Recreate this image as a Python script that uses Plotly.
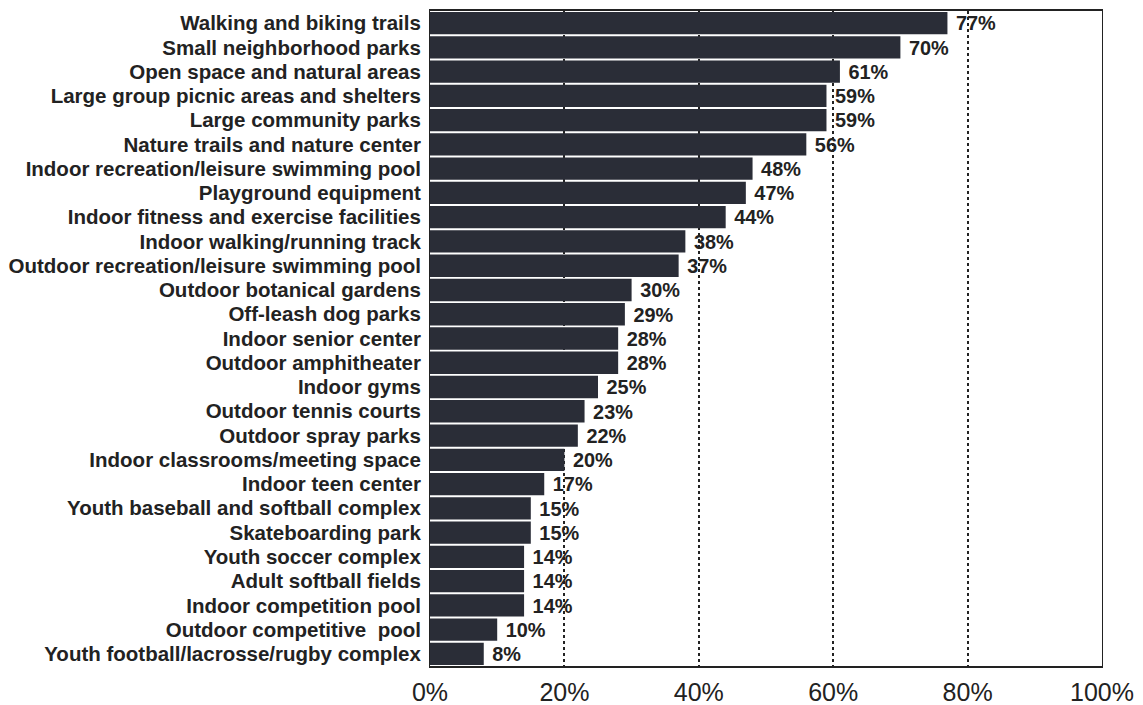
import plotly.graph_objects as go

categories = [
    "Walking and biking trails",
    "Small neighborhood parks",
    "Open space and natural areas",
    "Large group picnic areas and shelters",
    "Large community parks",
    "Nature trails and nature center",
    "Indoor recreation/leisure swimming pool",
    "Playground equipment",
    "Indoor fitness and exercise facilities",
    "Indoor walking/running track",
    "Outdoor recreation/leisure swimming pool",
    "Outdoor botanical gardens",
    "Off-leash dog parks",
    "Indoor senior center",
    "Outdoor amphitheater",
    "Indoor gyms",
    "Outdoor tennis courts",
    "Outdoor spray parks",
    "Indoor classrooms/meeting space",
    "Indoor teen center",
    "Youth baseball and softball complex",
    "Skateboarding park",
    "Youth soccer complex",
    "Adult softball fields",
    "Indoor competition pool",
    "Outdoor competitive  pool",
    "Youth football/lacrosse/rugby complex",
]
values = [77, 70, 61, 59, 59, 56, 48, 47, 44, 38, 37, 30, 29, 28, 28, 25, 23, 22, 20, 17, 15, 15, 14, 14, 14, 10, 8]
x_ticks = [0, 20, 40, 60, 80, 100]
x_tick_labels = ["0%", "20%", "40%", "60%", "80%", "100%"]

fig = go.Figure(go.Bar(
    x=values,
    y=categories,
    orientation="h",
    marker=dict(color="#2a2d37", line=dict(width=0)),
    text=[f" {v}%" for v in values],
    textposition="outside",
    cliponaxis=False,
    textfont=dict(family="Liberation Sans, Arial", size=20.5, color="#222", weight="bold"),
))

fig.update_layout(
    width=1135, height=697,
    margin=dict(l=422, r=41, t=3, b=39, autoexpand=False),
    paper_bgcolor="white",
    plot_bgcolor="white",
    bargap=0.08,
    showlegend=False,
    font=dict(family="Liberation Sans, Arial", color="#222"),
)
fig.update_xaxes(
    range=[0, 100],
    tickvals=x_ticks,
    ticktext=x_tick_labels,
    tickfont=dict(size=25, color="#222"),
    showgrid=True,
    gridcolor="#222",
    griddash="dot",
    gridwidth=1.5,
    showline=True,
    linecolor="#222",
    linewidth=1.5,
    mirror=True,
    ticks="",
    zeroline=False,
    automargin=False,
    ticklabelstandoff=3,
)
fig.update_yaxes(
    autorange="reversed",
    tickmode="array",
    tickvals=categories,
    ticktext=categories,
    tickfont=dict(size=20.5, color="#222", weight="bold"),
    showline=True,
    linecolor="#222",
    linewidth=1,
    mirror=True,
    ticks="",
    automargin=False,
    ticklabelstandoff=4,
)

fig.write_html("out.html")
